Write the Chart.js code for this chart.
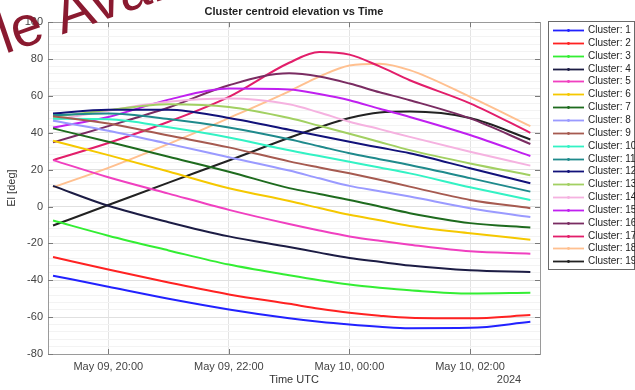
<!DOCTYPE html>
<html>
<head>
<meta charset="utf-8">
<title>Cluster centroid elevation vs Time</title>
<script src="https://cdn.jsdelivr.net/npm/chart.js@4.4.1/dist/chart.umd.min.js"></script>
<style>
  html, body { margin: 0; padding: 0; background: #fff; }
</style>
</head>
<body>
<canvas id="elevationChart" width="635" height="390"></canvas>
<script>
// Sample times (UTC, May 09 -> May 10 2024)
const sampleTimes = ['19:05', '20:00', '21:00', '22:00', '23:00', '23:30', '00:00', '00:30', '01:00', '02:00', '03:00'];

// Elevation [deg] per cluster, read at the sample times above
const cluster1  = [-37.5, -43.5, -50.0, -55.8, -60.6, -62.5, -64.0, -65.2, -66.0, -65.8, -62.5];
const cluster2  = [-27.4, -34.2, -41.2, -47.7, -52.8, -55.4, -57.6, -59.2, -60.3, -60.6, -58.9];
const cluster3  = [-7.6, -15.8, -23.8, -31.5, -37.3, -40.0, -42.3, -44.0, -45.4, -47.2, -46.8];
const cluster4  = [11.2, 0.4, -8.5, -16.2, -22.0, -25.0, -27.9, -30.0, -32.0, -34.6, -35.5];
const cluster5  = [25.2, 15.9, 7.0, -1.8, -9.5, -13.0, -16.2, -18.6, -20.7, -24.3, -25.6];
const cluster6  = [35.7, 27.9, 19.0, 9.9, 3.0, -0.8, -4.5, -7.5, -10.5, -14.5, -18.0];
const cluster7  = [42.4, 35.1, 27.0, 18.9, 10.0, 6.8, 3.6, 0.0, -3.6, -9.0, -11.4];
const cluster8  = [46.5, 41.1, 34.0, 26.7, 19.5, 15.3, 11.2, 8.3, 5.4, -0.9, -5.7];
const cluster9  = [49.0, 45.0, 38.5, 32.1, 24.5, 21.2, 18.0, 14.5, 10.8, 3.6, -0.9];
const cluster10 = [47.6, 47.4, 43.0, 37.5, 30.5, 27.4, 24.3, 21.2, 18.0, 10.5, 3.6];
const cluster11 = [49.6, 50.5, 47.5, 42.9, 36.5, 32.7, 28.9, 25.7, 22.5, 15.4, 8.1];
const cluster12 = [50.5, 52.5, 52.5, 48.0, 41.7, 38.4, 35.1, 32.0, 28.9, 20.8, 12.6];
const cluster13 = [48.6, 52.3, 55.5, 54.0, 48.0, 43.8, 39.5, 35.0, 30.6, 23.4, 17.0];
const cluster14 = [46.9, 52.0, 56.8, 58.6, 55.5, 51.0, 46.0, 42.0, 37.8, 29.7, 22.2];
const cluster15 = [42.9, 48.6, 58.0, 64.0, 63.5, 61.0, 57.7, 53.0, 48.6, 38.8, 27.4];
const cluster16 = [34.8, 43.6, 53.7, 65.8, 72.3, 70.5, 66.7, 62.0, 57.7, 47.8, 33.9];
const cluster17 = [25.2, 34.5, 46.0, 59.5, 78.0, 83.8, 82.4, 76.0, 68.5, 56.0, 40.0];
const cluster18 = [10.5, 21.0, 34.0, 48.0, 62.5, 70.5, 76.5, 77.5, 74.0, 59.5, 43.6];
const cluster19 = [-10.3, 0.8, 13.0, 25.0, 37.3, 43.0, 48.0, 51.0, 51.5, 48.0, 36.4];

const clusterNames = ['Cluster: 1', 'Cluster: 2', 'Cluster: 3', 'Cluster: 4', 'Cluster: 5', 'Cluster: 6',
  'Cluster: 7', 'Cluster: 8', 'Cluster: 9', 'Cluster: 10', 'Cluster: 11', 'Cluster: 12', 'Cluster: 13',
  'Cluster: 14', 'Cluster: 15', 'Cluster: 16', 'Cluster: 17', 'Cluster: 18', 'Cluster: 19'];
const clusterValues = [cluster1, cluster2, cluster3, cluster4, cluster5, cluster6, cluster7, cluster8,
  cluster9, cluster10, cluster11, cluster12, cluster13, cluster14, cluster15, cluster16, cluster17,
  cluster18, cluster19];

// Axis ticks: hours after May 09 19:00 UTC, elevation in degrees
const xTickHours = [1, 3, 5, 7];
const yTickValues = [-80, -60, -40, -20, 0, 20, 40, 60, 80, 100];

// Line colours (MATLAB-like palette)
const clusterColors = ['#2222ff', '#ff2222', '#33ee33', '#1c1c44', '#f040c0', '#f5c800', '#1e6b1e',
  '#9a9aff', '#a65a50', '#33f2c4', '#1f8a8c', '#12127a', '#a2d062', '#f5b2e0', '#c020f0', '#7a2c62',
  '#e21e6a', '#ffc090', '#222222'];

const FONT = '"Liberation Sans", Arial, sans-serif';
Chart.defaults.font.family = FONT;

// hh:mm -> hours after 19:00
function toHours(t) {
  const [h, m] = t.split(':').map(Number);
  let hh = h + m / 60;
  if (hh < 12) hh += 24;
  return hh - 19;
}

function formatTick(v) {
  const abs = 19 + v;
  const day = abs >= 24 ? '10' : '09';
  const hh = String(Math.round(abs % 24)).padStart(2, '0');
  return 'May ' + day + ', ' + hh + ':00';
}

const datasets = clusterValues.map((vals, i) => ({
  label: clusterNames[i],
  data: vals.map((v, j) => ({ x: toHours(sampleTimes[j]), y: v })),
  borderColor: clusterColors[i],
  backgroundColor: clusterColors[i],
  borderWidth: 2,
  pointRadius: 0,
  cubicInterpolationMode: 'monotone',
  fill: false
}));

// Frame, inward ticks, legend box, year label and watermark
const extrasPlugin = {
  id: 'extras',
  afterDraw(chart) {
    const ctx = chart.ctx;
    const a = chart.chartArea;
    const xs = chart.scales.x;
    const ys = chart.scales.y;
    ctx.save();

    ctx.strokeStyle = '#9a9a9a';
    ctx.lineWidth = 1;
    ctx.strokeRect(Math.round(a.left) + 0.5, Math.round(a.top) + 0.5,
      Math.round(a.right - a.left), Math.round(a.bottom - a.top));

    ctx.beginPath();
    xTickHours.forEach(h => {
      const px = Math.round(xs.getPixelForValue(h)) + 0.5;
      ctx.moveTo(px, a.bottom); ctx.lineTo(px, a.bottom - 5);
      ctx.moveTo(px, a.top); ctx.lineTo(px, a.top + 5);
    });
    yTickValues.forEach(v => {
      const py = Math.round(ys.getPixelForValue(v)) + 0.5;
      ctx.moveTo(a.left, py); ctx.lineTo(a.left + 5, py);
      ctx.moveTo(a.right, py); ctx.lineTo(a.right - 5, py);
    });
    ctx.strokeStyle = '#7a7a7a';
    ctx.stroke();

    // year under the last tick
    ctx.fillStyle = '#444';
    ctx.font = '11px ' + FONT;
    ctx.textAlign = 'center';
    ctx.textBaseline = 'middle';
    ctx.fillText('2024', 509, 380);

    // legend
    const lx = 548, ly = 21, lw = 86, lh = 248;
    ctx.fillStyle = '#fff';
    ctx.fillRect(lx, ly, lw, lh);
    ctx.strokeStyle = '#6a6a6a';
    ctx.strokeRect(lx + 0.5, ly + 0.5, lw, lh);
    ctx.font = '10px ' + FONT;
    ctx.textAlign = 'left';
    chart.data.datasets.forEach((ds, i) => {
      const y = Math.round(30 + i * 12.85) + 0.5;
      ctx.strokeStyle = ds.borderColor;
      ctx.lineWidth = 1.8;
      ctx.beginPath();
      ctx.moveTo(553, y); ctx.lineTo(584, y);
      ctx.stroke();
      ctx.fillStyle = ds.borderColor;
      ctx.beginPath();
      ctx.arc(568.5, y, 1.4, 0, Math.PI * 2);
      ctx.fill();
      ctx.fillStyle = '#222';
      ctx.fillText(ds.label, 588, y);
    });

    // watermark
    ctx.translate(5, 54);
    ctx.rotate(-19 * Math.PI / 180);
    ctx.fillStyle = '#8a1a30';
    ctx.font = '57px ' + FONT;
    ctx.textBaseline = 'alphabetic';
    ctx.fillText('le Avai', 0, 0);
    ctx.restore();
  }
};

const ctxElevation = document.getElementById('elevationChart').getContext('2d');

const elevationChart = new Chart(ctxElevation, {
  type: 'line',
  data: { datasets: datasets },
  options: {
    responsive: false,
    animation: false,
    devicePixelRatio: 1,
    layout: { padding: { left: 0, right: 95, top: 0, bottom: 0 } },
    plugins: {
      legend: { display: false },
      tooltip: { enabled: false },
      title: {
        display: true,
        text: 'Cluster centroid elevation vs Time',
        fullSize: false,
        color: '#222',
        font: { size: 11, weight: 'bold' },
        padding: { top: 5, bottom: 4 }
      }
    },
    scales: {
      x: {
        type: 'linear',
        min: 0,
        max: 8.16,
        afterBuildTicks: s => { s.ticks = xTickHours.map(v => ({ value: v })); },
        afterFit: s => { s.height = 36; },
        border: { display: false },
        grid: { color: '#e4e4e4', drawTicks: false },
        ticks: {
          padding: 6, color: '#444', font: { size: 11 }, maxRotation: 0, autoSkip: false,
          callback: v => formatTick(v)
        },
        title: { display: true, text: 'Time UTC', color: '#333', font: { size: 11 }, padding: { top: 0, bottom: 3 } }
      },
      y: {
        min: -80,
        max: 100,
        afterBuildTicks: s => {
          const t = [];
          for (let v = -80; v <= 100; v += 4) t.push({ value: v });
          s.ticks = t;
        },
        afterFit: s => { s.width = 48; },
        border: { display: false },
        grid: {
          drawTicks: false,
          color: c => (c.tick && c.tick.value % 20 === 0) ? '#e0e0e0' : '#f3f3f3'
        },
        ticks: {
          padding: 5, color: '#444', font: { size: 11 }, autoSkip: false,
          callback: v => (v % 20 === 0 ? v : '')
        },
        title: { display: true, text: 'El [deg]', color: '#333', font: { size: 11 }, padding: { top: 5, bottom: 0 } }
      }
    }
  },
  plugins: [extrasPlugin]
});
</script>
</body>
</html>
